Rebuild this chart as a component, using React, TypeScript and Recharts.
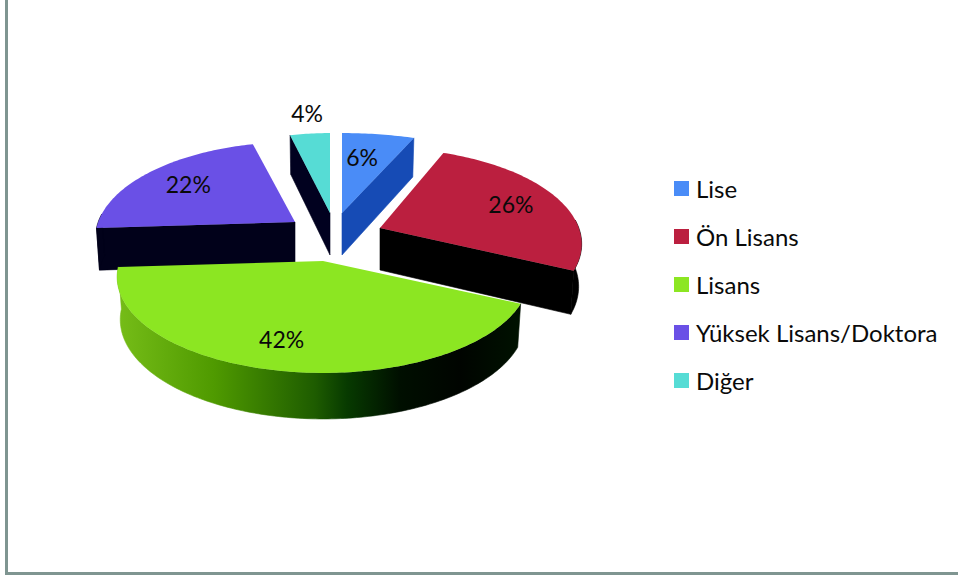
import React from "react";
import { PieChart, Pie, Legend } from "recharts";

// Education levels and their shares (percent)
const categories = ["Lise", "Ön Lisans", "Lisans", "Yüksek Lisans/Doktora", "Diğer"];
const shares = [6, 26, 42, 22, 4];

const topColors = ["#4a8cf7", "#bb1f3f", "#8ce622", "#6a50e6", "#56dcd5"];
const sideColors = ["#164bb5", "#000000", "url(#lisansWall)", "#01011a", "#01011f"];

// How far each slice is pulled out of the pie, in pixels
const explodeX = [17, 55, -2, -30, 5];
const explodeY = [-48, -33, 0, -39, -48];
// Horizontal stretch of each slice: pulled-out slices sit at a different distance from the camera
const spreadX = [1.1, 0.97, 0.99, 0.96, 0.91];
// Distance of each percent label from the slice tip, as a fraction of the radius
const labelReach = [0.7, 0.7, 0.76, 0.7, 1.27];
const labelNudgeX = [-4, 3, -8, 2, 4];
const labelNudgeY = [2, -1, -2, -2, -3];

const TILT = 0.455;
const PERSPECTIVE = 0.1667;
const DEPTH = 42;
const WALL_TAPER = 0.985;
const FONT = "Lato, Carlito, sans-serif";

const rows = categories.map((name, i) => ({ name, value: shares[i], fill: topColors[i] }));

// Perspective projection of a point on the flat disc onto the tilted pie.
// `deg` is the Recharts angle (counter-clockwise from three o'clock).
function project(deg: number, r: number, radius: number, stretch = 1) {
  const t = ((90 - deg) * Math.PI) / 180;
  const s = Math.sin(t) * r;
  const c = Math.cos(t) * r;
  const w = 1 + PERSPECTIVE * c;
  return { x: (radius * s * stretch) / w, y: (-radius * TILT * c) / w, drop: DEPTH / Math.sqrt(w) };
}

const toPath = (pts: { x: number; y: number }[]) =>
  pts.map((p, i) => `${i ? "L" : "M"}${p.x.toFixed(2)} ${p.y.toFixed(2)}`).join(" ") + " Z";

function arcPoints(from: number, to: number, radius: number, stretch: number) {
  const steps = Math.max(2, Math.ceil(Math.abs(to - from)));
  return Array.from({ length: steps + 1 }, (_, i) =>
    project(from + ((to - from) * i) / steps, 1, radius, stretch),
  );
}

// Clockwise position (0..360 from twelve o'clock) of a Recharts angle
const clockwise = (deg: number) => ((90 - deg) % 360 + 360) % 360;

function slice3d(props: any, only: (name: string) => boolean) {
  const { cx, cy, outerRadius, startAngle, endAngle, payload } = props;
  const name = payload?.name ?? props.name;
  if (!only(name)) return <g />;
  const i = categories.indexOf(name);
  const stretch = spreadX[i];
  const ox = cx + explodeX[i];
  const oy = cy + explodeY[i];
  const tip = { x: 0, y: 0, drop: DEPTH };
  const wallOf = (pts: { x: number; y: number; drop: number }[]) =>
    toPath([...pts, ...[...pts].reverse().map((p) => ({ x: p.x * WALL_TAPER, y: p.y + p.drop }))]);
  const wallPaint = { fill: sideColors[i], stroke: sideColors[i], strokeWidth: 0.6 };

  const walls: React.ReactNode[] = [];
  const a = clockwise(startAngle);
  const b = a + (startAngle - endAngle);
  // Cut faces turned toward the viewer
  if (a > 180)
    walls.push(<path key="start" d={wallOf([tip, project(startAngle, 1, outerRadius, stretch)])} {...wallPaint} />);
  if (b < 180)
    walls.push(<path key="end" d={wallOf([tip, project(endAngle, 1, outerRadius, stretch)])} {...wallPaint} />);
  // Rim of the pie along its front half
  const rimFrom = Math.max(a, 85);
  const rimTo = Math.min(b, 275);
  if (rimTo > rimFrom) {
    const pts = arcPoints(90 - rimFrom, 90 - rimTo, outerRadius, stretch);
    walls.push(<path key="rim" d={wallOf(pts)} {...wallPaint} />);
  }
  const top = toPath([tip, ...arcPoints(startAngle, endAngle, outerRadius, stretch)]);
  return (
    <g transform={`translate(${ox} ${oy})`}>
      <defs>
        <linearGradient id="lisansWall" x1="0" x2="1" y1="0" y2="0">
          <stop offset="0" stopColor="#76bd18" />
          <stop offset="0.24" stopColor="#4f9a00" />
          <stop offset="0.49" stopColor="#1e5c00" />
          <stop offset="0.57" stopColor="#073a00" />
          <stop offset="0.7" stopColor="#000f00" />
          <stop offset="0.85" stopColor="#000400" />
          <stop offset="1" stopColor="#001200" />
        </linearGradient>
      </defs>
      {walls}
      <path d={top} fill={topColors[i]} />
    </g>
  );
}

function percentLabel(props: any, only: (name: string) => boolean) {
  const { cx, cy, midAngle, outerRadius, name, value } = props;
  const label = name ?? props.payload?.name;
  if (!only(label)) return <g />;
  const i = categories.indexOf(label);
  const p = project(midAngle, labelReach[i], outerRadius);
  return (
    <text
      x={cx + explodeX[i] + p.x + labelNudgeX[i]}
      y={cy + explodeY[i] + p.y + labelNudgeY[i]}
      textAnchor="middle"
      dominantBaseline="central"
      fontFamily={FONT}
      fontSize={23}
      fill="#0a0a0a"
    >
      {`${value}%`}
    </text>
  );
}

function LegendList({ payload }: any) {
  return (
    <div style={{ fontFamily: FONT, fontSize: 24, color: "#0a0a0a" }}>
      {categories.map((name, i) => {
        const entry = (payload || []).find((e: any) => e.value === name);
        return (
          <div key={name} style={{ height: 48.2, display: "flex", alignItems: "center", whiteSpace: "nowrap" }}>
            <span style={{ width: 15, height: 15, background: entry?.color ?? topColors[i], marginRight: 7, flex: "none" }} />
            {name}
          </div>
        );
      })}
    </div>
  );
}

const isBackSlice = (name: string) => name !== "Lisans";
const isFrontSlice = (name: string) => name === "Lisans";

export default function App() {
  return (
    <div style={{ position: "absolute", left: 0, top: 0, width: 958, height: 575, background: "#fff", overflow: "hidden" }}>
      <div
        style={{
          position: "absolute",
          left: 5,
          top: 0,
          right: 0,
          bottom: 0,
          borderLeft: "3px solid #7f9591",
          borderBottom: "3px solid #7f9591",
        }}
      />
      <div style={{ position: "absolute", left: 0, top: 0 }}>
        <PieChart width={958} height={575} margin={{ top: 0, right: 0, bottom: 0, left: 0 }}>
          {/* Back slices first so the large front slice covers their walls */}
          <Pie
            data={rows}
            dataKey="value"
            nameKey="name"
            cx={325}
            cy={261}
            outerRadius={205}
            startAngle={90}
            endAngle={-270}
            stroke="none"
            isAnimationActive={false}
            shape={(p: any) => slice3d(p, isBackSlice)}
            label={(p: any) => percentLabel(p, isBackSlice)}
            labelLine={false}
          />
          <Pie
            data={rows}
            dataKey="value"
            nameKey="name"
            cx={325}
            cy={261}
            outerRadius={205}
            startAngle={90}
            endAngle={-270}
            stroke="none"
            legendType="none"
            isAnimationActive={false}
            shape={(p: any) => slice3d(p, isFrontSlice)}
            label={(p: any) => percentLabel(p, isFrontSlice)}
            labelLine={false}
          />
          <Legend
            layout="vertical"
            align="right"
            verticalAlign="top"
            wrapperStyle={{ left: 674, right: "auto", top: 164, width: 284 }}
            content={<LegendList />}
          />
        </PieChart>
      </div>
    </div>
  );
}
